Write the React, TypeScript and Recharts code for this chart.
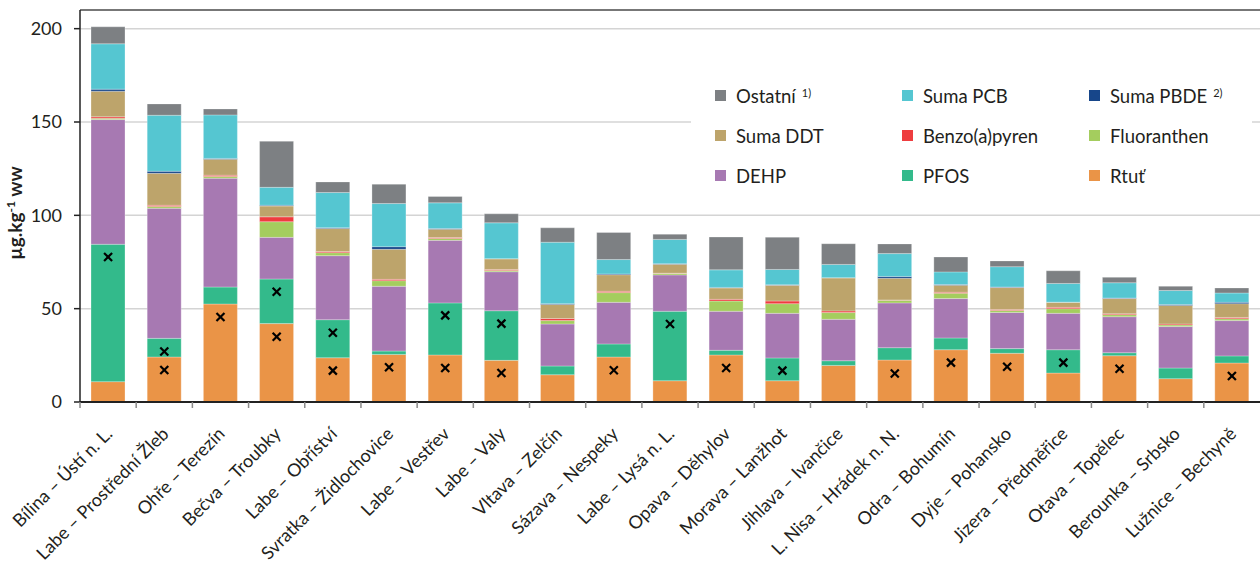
import React from 'react';
import {
  ComposedChart,
  Bar,
  Line,
  XAxis,
  YAxis,
  CartesianGrid,
  Legend,
  ReferenceLine,
} from 'recharts';

const stations = [
  'Bílina – Ústí n. L.',
  'Labe – Prostřední Žleb',
  'Ohře – Terezín',
  'Bečva – Troubky',
  'Labe – Obříství',
  'Svratka – Židlochovice',
  'Labe – Vestřev',
  'Labe – Valy',
  'Vltava – Zelčín',
  'Sázava – Nespeky',
  'Labe – Lysá n. L.',
  'Opava – Děhylov',
  'Morava – Lanžhot',
  'Jihlava – Ivančice',
  'L. Nisa – Hrádek n. N.',
  'Odra – Bohumín',
  'Dyje – Pohansko',
  'Jizera – Předměřice',
  'Otava – Topělec',
  'Berounka – Srbsko',
  'Lužnice – Bechyně',
];

const rtut = [10.9, 24.1, 52.5, 42.0, 23.7, 25.5, 25.2, 22.3, 14.6, 24.1, 11.4, 25.2, 11.4, 19.6, 22.5, 28.0, 26.1, 15.5, 24.8, 12.5, 20.9];
const pfos = [73.6, 10.0, 9.1, 23.9, 20.4, 1.8, 27.9, 26.6, 4.7, 7.0, 37.2, 2.5, 12.2, 2.5, 6.6, 6.3, 2.5, 12.5, 1.6, 5.7, 3.8];
const dehp = [66.8, 69.7, 58.3, 22.3, 34.3, 34.7, 33.5, 20.9, 22.5, 22.3, 19.5, 20.9, 23.9, 22.2, 24.0, 21.1, 19.4, 19.5, 19.3, 22.2, 18.9];
const fluoranthen = [0.7, 0.9, 0.9, 8.4, 1.6, 3.0, 1.0, 0.7, 1.8, 5.2, 0.8, 5.5, 5.2, 3.6, 1.4, 2.9, 1.0, 2.5, 1.1, 0.9, 1.0];
const benzo = [0.8, 0.7, 0.7, 2.6, 0.6, 0.7, 0.5, 0.5, 1.1, 0.7, 0.1, 0.9, 1.4, 0.9, 0.2, 0.5, 0.5, 0.7, 0.5, 0.5, 0.7];
const ddt = [13.7, 17.1, 8.6, 5.8, 12.3, 16.1, 4.5, 5.7, 7.5, 8.9, 4.8, 6.1, 8.4, 17.7, 11.6, 3.8, 11.8, 2.7, 8.1, 9.9, 7.4];
const pbde = [1.1, 1.1, 0.4, 0.4, 0.5, 1.4, 0.3, 0.1, 0.5, 0.4, 0.3, 0.3, 0.3, 0.1, 0.9, 0.3, 0.3, 0.1, 0.3, 0.5, 0.7];
const pcb = [24.3, 30.0, 23.3, 9.6, 18.8, 23.1, 13.8, 19.2, 32.9, 7.7, 13.0, 9.4, 8.2, 7.1, 12.3, 6.8, 10.9, 10.0, 8.2, 7.5, 5.0];
const ostatni = [9.1, 6.1, 3.2, 24.7, 5.7, 10.4, 3.4, 4.8, 7.7, 14.5, 2.8, 17.6, 17.3, 11.1, 5.2, 8.0, 3.1, 6.8, 2.9, 2.3, 2.7];

// black cross markers (up to two per station)
const cross1 = [77.7, 27.1, 45.5, 59.1, 37.1, 18.6, 46.4, 42.0, null, 17.0, 41.8, 18.2, 16.8, null, 15.3, 21.1, 18.9, 21.1, 17.8, null, 13.9];
const cross2 = [null, 17.1, null, 35.0, 16.8, null, 18.2, 15.5, null, null, null, null, null, null, null, null, null, null, null, null, null];

const yTicks = [0, 50, 100, 150, 200];

const series = [
  { key: 'rtut', name: 'Rtuť', color: '#ea9447', values: rtut, sup: '' },
  { key: 'pfos', name: 'PFOS', color: '#33ba8b', values: pfos, sup: '' },
  { key: 'dehp', name: 'DEHP', color: '#a779b2', values: dehp, sup: '' },
  { key: 'fluoranthen', name: 'Fluoranthen', color: '#a4cd5e', values: fluoranthen, sup: '' },
  { key: 'benzo', name: 'Benzo(a)pyren', color: '#ee3d3f', values: benzo, sup: '' },
  { key: 'ddt', name: 'Suma DDT', color: '#bda46b', values: ddt, sup: '' },
  { key: 'pbde', name: 'Suma PBDE', color: '#17468a', values: pbde, sup: '2)' },
  { key: 'pcb', name: 'Suma PCB', color: '#55c6d1', values: pcb, sup: '' },
  { key: 'ostatni', name: 'Ostatní', color: '#7d8083', values: ostatni, sup: '1)' },
];

const data = stations.map((s, i) => {
  const row: Record<string, any> = { station: s, cross1: cross1[i], cross2: cross2[i] };
  series.forEach((ser) => {
    row[ser.key] = ser.values[i];
  });
  return row;
});

const FONT = 'Lato, "Open Sans", sans-serif';
const TEXT = '#231f20';

const XTick = (props: any) => {
  const { x, y, payload } = props;
  const half = payload && payload.offset ? payload.offset : 28.1;
  const ax = x + 5.5;
  const ay = y + 33;
  return (
    <g>
      <line x1={x - half} x2={x - half} y1={y} y2={y + 6} stroke="#8a8a8a" strokeWidth={1.5} />
      <text
        x={ax}
        y={ay}
        transform={`rotate(-45 ${ax} ${ay})`}
        textAnchor="end"
        fill={TEXT}
        fontSize={18}
        fontFamily={FONT}
      >
        {payload.value}
      </text>
    </g>
  );
};

const CrossDot = (props: any) => {
  const { cx, cy, value, index } = props;
  if (value === null || value === undefined || cy === null || cy === undefined || isNaN(cy)) {
    return <g key={`c-${index}`} />;
  }
  const s = 4;
  return (
    <g key={`c-${index}`}>
      <line x1={cx - s} y1={cy - s} x2={cx + s} y2={cy + s} stroke="#000" strokeWidth={2.2} />
      <line x1={cx - s} y1={cy + s} x2={cx + s} y2={cy - s} stroke="#000" strokeWidth={2.2} />
    </g>
  );
};

const YLabel = () => (
  <text
    x={22}
    y={213}
    transform="rotate(-90 22 213)"
    textAnchor="middle"
    fill={TEXT}
    fontSize={19}
    fontWeight="bold"
    fontFamily={FONT}
  >
    <tspan>µg.kg</tspan>
    <tspan dy={-7} fontSize={12}>-1</tspan>
    <tspan dy={7}> ww</tspan>
  </text>
);

const legendOrder = [...series].reverse();

const LegendContent = () => (
  <div style={{ position: 'relative', width: 561, height: 140, background: '#fff' }}>
    {legendOrder.map((s, i) => {
      const col = i % 3;
      const row = Math.floor(i / 3);
      const cy = 30.7 + row * 40;
      return (
        <div key={s.key}>
          <div
            style={{
              position: 'absolute',
              left: 24 + col * 187,
              top: cy - 5.5,
              width: 11,
              height: 11,
              background: s.color,
            }}
          />
          <div
            style={{
              position: 'absolute',
              left: 45 + col * 187,
              top: cy - 12,
              height: 24,
              lineHeight: '24px',
              fontSize: 18.5,
              fontFamily: FONT,
              color: TEXT,
              whiteSpace: 'nowrap',
            }}
          >
            {s.name}
            {s.sup ? (
              <span style={{ fontSize: 11, verticalAlign: 'top', position: 'relative', top: -3, marginLeft: 6 }}>
                {s.sup}
              </span>
            ) : null}
          </div>
        </div>
      );
    })}
  </div>
);

export default function App() {
  return (
    <div style={{ position: 'absolute', left: 0, top: 0, width: 1260, height: 563, background: '#fff' }}>
      <ComposedChart
        width={1260}
        height={563}
        data={data}
        margin={{ top: 10, right: 0, bottom: 10, left: 0 }}
      >
        <CartesianGrid vertical={false} stroke="#d4d4d4" strokeWidth={1.5} />
        <XAxis
          dataKey="station"
          height={151}
          interval={0}
          tickLine={false}
          tickSize={0}
          tickMargin={0}
          tick={<XTick />}
          axisLine={{ stroke: '#222', strokeWidth: 2 }}
        />
        <YAxis
          width={80}
          domain={[0, 210]}
          ticks={yTicks}
          allowDataOverflow
          tickSize={6}
          tickMargin={12}
          tickLine={{ stroke: '#222', strokeWidth: 1.5 }}
          axisLine={{ stroke: '#222', strokeWidth: 1.5 }}
          tick={{ fill: TEXT, fontSize: 18, fontFamily: FONT }}
          label={<YLabel />}
        />
        <ReferenceLine y={210} stroke="#555" strokeWidth={1.5} />
        {series.map((s) => (
          <Bar
            key={s.key}
            dataKey={s.key}
            name={s.name}
            stackId="a"
            fill={s.color}
            barSize={34}
            stroke="rgba(255,255,255,0.35)"
            strokeWidth={0.8}
            isAnimationActive={false}
          />
        ))}
        <Line
          dataKey="cross1"
          stroke="none"
          dot={CrossDot}
          activeDot={false}
          legendType="none"
          isAnimationActive={false}
        />
        <Line
          dataKey="cross2"
          stroke="none"
          dot={CrossDot}
          activeDot={false}
          legendType="none"
          isAnimationActive={false}
        />
        <Legend
          layout="horizontal"
          align="center"
          verticalAlign="middle"
          content={<LegendContent />}
          wrapperStyle={{ left: 691, top: 65, width: 561, height: 140 }}
        />
      </ComposedChart>
    </div>
  );
}
